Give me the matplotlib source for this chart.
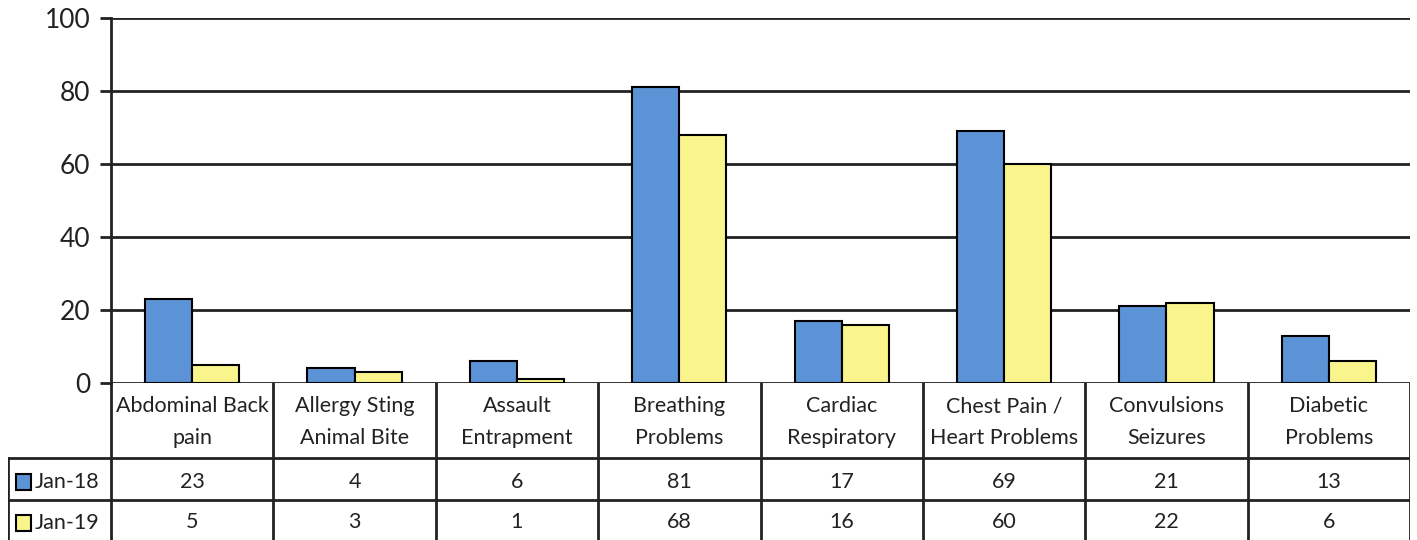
import matplotlib.pyplot as plt
import numpy as np

categories = ["Abdominal Back\npain", "Allergy Sting\nAnimal Bite", "Assault\nEntrapment",
              "Breathing\nProblems", "Cardiac\nRespiratory", "Chest Pain /\nHeart Problems",
              "Convulsions\nSeizures", "Diabetic\nProblems"]
series_names = ["Jan-18", "Jan-19"]
jan18 = [23, 4, 6, 81, 17, 69, 21, 13]
jan19 = [5, 3, 1, 68, 16, 60, 22, 6]
yticks = [0, 20, 40, 60, 80, 100]

colors = ["#5B93D6", "#FAF48C"]
line_c = "#222222"
W, H = 1417, 540

plt.rcParams['font.family'] = ['Lato', 'DejaVu Sans']

fig = plt.figure(figsize=(W / 100, H / 100), dpi=100)

# chart area (pixel layout from the reference)
left, right, top, bottom = 111, 1410, 18, 383
ax = fig.add_axes([left / W, (H - bottom) / H, (right - left) / W, (bottom - top) / H])
x = np.arange(len(categories)) + 0.5
bw = 0.29
ax.bar(x - bw / 2, jan18, bw, color=colors[0], edgecolor="black", linewidth=1.5, zorder=3)
ax.bar(x + bw / 2, jan19, bw, color=colors[1], edgecolor="black", linewidth=1.5, zorder=3)
ax.set_xlim(0, len(categories))
ax.set_ylim(0, 100)
ax.set_yticks(yticks)
ax.yaxis.grid(True, color=line_c, linewidth=2)
ax.set_axisbelow(True)
ax.set_xticks([])
for s in ["top", "right", "bottom"]:
    ax.spines[s].set_visible(False)
ax.spines["left"].set_linewidth(2)
ax.spines["left"].set_color(line_c)
ax.tick_params(axis="y", length=8, width=2, color=line_c, labelsize=19, pad=7,
               labelcolor="#222222")

# data table under the chart
tleft = 8
ux = (right - left) / len(categories)
x0 = (tleft - left) / ux
tax = fig.add_axes([tleft / W, 0, (right - tleft) / W, (H - bottom) / H])
tax.set_xlim(x0, len(categories))
tax.set_ylim(H, bottom)
tax.axis("off")

row1, row2 = 458, 500
lw = 2
# horizontal lines
tax.plot([x0, len(categories)], [row1, row1], color=line_c, lw=lw)
tax.plot([x0, len(categories)], [row2, row2], color=line_c, lw=lw)
# vertical lines
for i in range(len(categories) + 1):
    tax.plot([i, i], [bottom, H], color=line_c, lw=lw)
tax.plot([x0, x0], [row1, H], color=line_c, lw=lw)

fs = 15.5
for i, c in enumerate(categories):
    tax.text(i + 0.5, (bottom + row1) / 2 + 2, c, ha="center", va="center",
             fontsize=fs, linespacing=1.75, color="#222222")
    tax.text(i + 0.5, (row1 + row2) / 2 + 3, str(jan18[i]), ha="center", va="center",
             fontsize=fs, color="#222222")
    tax.text(i + 0.5, (row2 + H) / 2 + 2, str(jan19[i]), ha="center", va="center",
             fontsize=fs, color="#222222")

# legend keys in the table
for name, col, (y0, y1) in zip(series_names, colors, [(row1, row2), (row2, H)]):
    ym = (y0 + y1) / 2 + 3
    kx = x0 + 8 / ux
    tax.add_patch(plt.Rectangle((kx, ym - 8), 15 / ux, 16, facecolor=col,
                                edgecolor="black", lw=1.5))
    tax.text(kx + 19 / ux, ym, name, ha="left", va="center", fontsize=fs, color="#222222")

fig.savefig("out.png", dpi=100)
